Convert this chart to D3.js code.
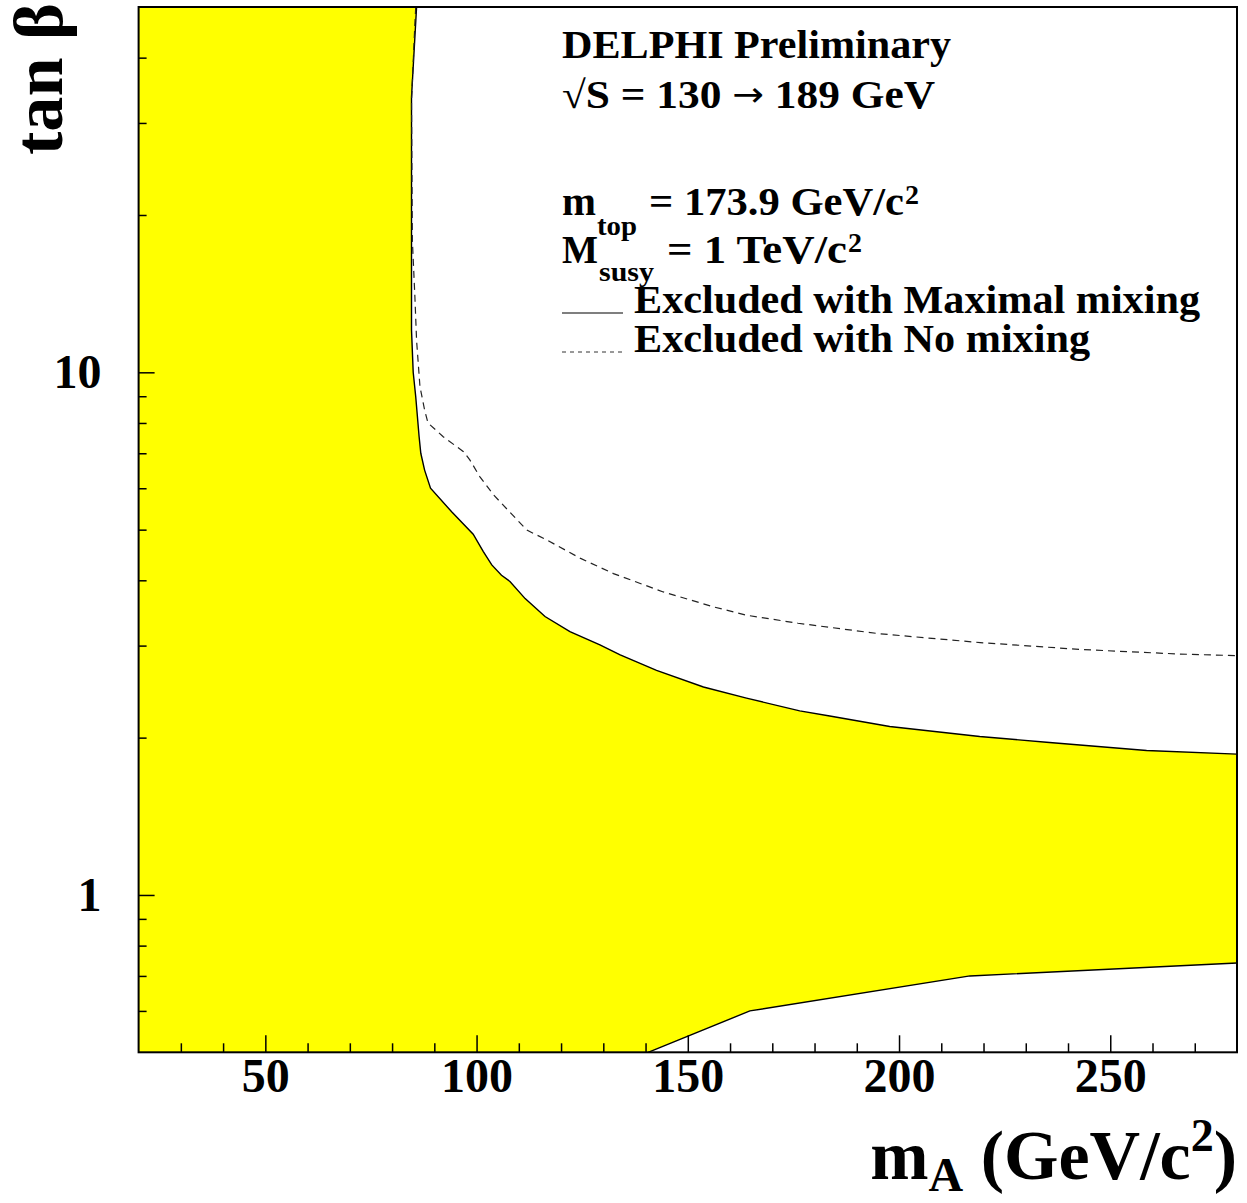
<!DOCTYPE html>
<html><head><meta charset="utf-8">
<script src="https://cdn.jsdelivr.net/npm/d3@7"></script>
<style>
body{margin:0;background:#fff}
svg{display:block}
text{font-family:"Liberation Serif","Times New Roman",serif;font-weight:bold;fill:#000}
</style></head><body>
<svg id="chart" width="1247" height="1203"></svg>
<script>
// Upper edge of the excluded region, maximal mixing (m_A in GeV/c^2, tan beta)
const maxMixMassA   = [85.8, 84.6, 84.6, 84.6, 85.0, 85.6, 86.4, 86.8, 87.7, 89.1, 94.1, 99.2, 101.6, 103.6, 105.9, 107.9, 111.5, 116.2, 122.1, 129.2, 134.0, 142.6, 153.7, 163.9, 176.5, 183.6, 197.8, 219.1, 234.9, 258.6, 280];
const maxMixTanBeta = [50, 33.6, 17.9, 12.05, 10.0, 8.98, 7.53, 7.0, 6.5, 6.0, 5.41, 4.90, 4.54, 4.28, 4.09, 3.98, 3.69, 3.41, 3.19, 3.01, 2.88, 2.69, 2.50, 2.38, 2.25, 2.20, 2.10, 2.01, 1.96, 1.89, 1.86];
// Lower edge of the excluded region (low tan beta)
const lowerMassA    = [140.6, 164.7, 216.8, 280];
const lowerTanBeta  = [0.5, 0.60, 0.70, 0.741];
// Boundary for the no-mixing scenario
const noMixMassA    = [85.6, 85.4, 84.6, 84.8, 85.4, 85.8, 86.6, 87.7, 88.5, 92.1, 96.9, 98.4, 100.8, 104.0, 111.9, 116.6, 124.5, 132.4, 144.2, 156.0, 163.9, 176.1, 195.5, 219.2, 242.8, 266.5, 280];
const noMixTanBeta  = [50, 46.5, 33, 17.9, 13.95, 11.5, 9.39, 8.47, 8.0, 7.53, 7.05, 6.80, 6.31, 5.83, 4.99, 4.78, 4.41, 4.12, 3.80, 3.56, 3.43, 3.31, 3.16, 3.04, 2.95, 2.89, 2.87];

const xMajorTicks = [50, 100, 150, 200, 250];
const xMinorTicks = [30, 40, 60, 70, 80, 90, 110, 120, 130, 140, 160, 170, 180, 190, 210, 220, 230, 240, 260, 270];
const yMajorTicks = [1, 10];
const yMinorTicks = [0.6, 0.7, 0.8, 0.9, 2, 3, 4, 5, 6, 7, 8, 9, 20, 30, 40];

const svg = d3.select("#chart");
const plotLeft = 138.6, plotRight = 1237, plotTop = 7, plotBottom = 1052.3;

const x = d3.scaleLinear().domain([20, 280]).range([plotLeft, plotRight]);
const y = d3.scaleLog().domain([0.5, 50]).range([plotBottom, plotTop]);

svg.append("defs").append("clipPath").attr("id", "plotArea")
  .append("rect").attr("x", plotLeft).attr("y", plotTop)
  .attr("width", plotRight - plotLeft).attr("height", plotBottom - plotTop);

const upper = maxMixMassA.map((m, i) => [m, maxMixTanBeta[i]]);
const lower = lowerMassA.map((m, i) => [m, lowerTanBeta[i]]);
const noMix = noMixMassA.map((m, i) => [m, noMixTanBeta[i]]);

const line = d3.line().x(d => x(d[0])).y(d => y(d[1]));

// Excluded region: left edge of the plot, upper limit curve, right edge, lower limit curve
const region = [[20, 50], ...upper, ...lower.slice().reverse(), [20, 0.5]];
const g = svg.append("g").attr("clip-path", "url(#plotArea)");
g.append("path").attr("d", line(region) + "Z")
  .attr("fill", "#ffff00").attr("stroke", "none");

g.append("path").attr("d", line(upper))
  .attr("fill", "none").attr("stroke", "#000").attr("stroke-width", 1.4);
g.append("path").attr("d", line(lower))
  .attr("fill", "none").attr("stroke", "#000").attr("stroke-width", 1.4);
g.append("path").attr("d", line(noMix))
  .attr("fill", "none").attr("stroke", "#222").attr("stroke-width", 1.2)
  .attr("stroke-dasharray", "7,5");

// Axes with ticks pointing into the plot
const xAxisMajor = d3.axisBottom(x).tickValues(xMajorTicks).tickSize(-17)
  .tickPadding(6).tickFormat(d3.format("d"));
const xAxisMinor = d3.axisBottom(x).tickValues(xMinorTicks).tickSize(-9).tickFormat("");
const yAxisMajor = d3.axisLeft(y).tickValues(yMajorTicks).tickSize(-16)
  .tickPadding(37).tickFormat(d3.format("d"));
const yAxisMinor = d3.axisLeft(y).tickValues(yMinorTicks).tickSize(-8).tickFormat("");

function styleAxis(sel) {
  sel.select(".domain").remove();
  sel.selectAll(".tick line").attr("stroke", "#000").attr("stroke-width", 1.5);
  sel.selectAll(".tick text").attr("font-family", null).style("font-size", "48px")
    .attr("fill", "#000");
}
svg.append("g").attr("transform", `translate(0,${plotBottom})`).call(xAxisMinor).call(styleAxis);
svg.append("g").attr("transform", `translate(0,${plotBottom})`).call(xAxisMajor).call(styleAxis);
svg.append("g").attr("transform", `translate(${plotLeft},0)`).call(yAxisMinor).call(styleAxis);
svg.append("g").attr("transform", `translate(${plotLeft},0)`).call(yAxisMajor).call(styleAxis);

// Frame
svg.append("rect").attr("x", plotLeft).attr("y", plotTop)
  .attr("width", plotRight - plotLeft).attr("height", plotBottom - plotTop)
  .attr("fill", "none").attr("stroke", "#000").attr("stroke-width", 2);

// Axis titles
svg.append("text")
  .attr("transform", "translate(62,155) rotate(-90)")
  .attr("text-anchor", "start").style("font-size", "70px")
  .attr("textLength", 152).attr("lengthAdjust", "spacingAndGlyphs")
  .text("tan \u03b2");

const xTitle = svg.append("text").attr("x", 1237).attr("y", 1179)
  .attr("text-anchor", "end").style("font-size", "70px");
xTitle.append("tspan").text("m");
xTitle.append("tspan").attr("dy", 12).style("font-size", "48px").text("A");
xTitle.append("tspan").attr("dy", -12).text("\u00a0(GeV/c");
xTitle.append("tspan").attr("dy", -28).style("font-size", "46px").text("2");
xTitle.append("tspan").attr("dy", 28).text(")");

// Legend and run conditions
const legendFont = "39px", subFont = "28px";
function label(tx, ty, str, size, width) {
  const t = svg.append("text").attr("x", tx).attr("y", ty).style("font-size", size).text(str);
  if (width) t.attr("textLength", width).attr("lengthAdjust", "spacingAndGlyphs");
  return t;
}
label(562, 58, "DELPHI Preliminary", legendFont, 389);

const energy = svg.append("text").attr("x", 562).attr("y", 108).style("font-size", legendFont);
energy.append("tspan").text("\u221aS = 130 ");
energy.append("tspan").style("font-family", "'DejaVu Sans'").style("font-weight", "normal")
  .style("font-size", "34px").attr("dy", -2).text("\u2192");
energy.append("tspan").attr("dy", 2).text(" 189 GeV");
energy.attr("textLength", 373).attr("lengthAdjust", "spacingAndGlyphs");

label(562, 215, "m", legendFont, 34);
label(597, 235, "top", subFont, 40);
label(649, 215, "= 173.9 GeV/c", legendFont, 255);
label(905, 204, "2", subFont);

label(562, 263, "M", legendFont, 36);
label(599, 281, "susy", subFont, 55);
label(667, 263, "= 1 TeV/c", legendFont, 180);
label(848, 252, "2", subFont);

svg.append("line").attr("x1", 562).attr("x2", 623).attr("y1", 313).attr("y2", 313)
  .attr("stroke", "#000").attr("stroke-width", 1.2);
label(634, 313, "Excluded with Maximal mixing", legendFont, 566);

svg.append("line").attr("x1", 562).attr("x2", 623).attr("y1", 352).attr("y2", 352)
  .attr("stroke", "#333").attr("stroke-width", 1).attr("stroke-dasharray", "4,4");
label(634, 352, "Excluded with No mixing", legendFont, 456);
</script>
</body></html>
